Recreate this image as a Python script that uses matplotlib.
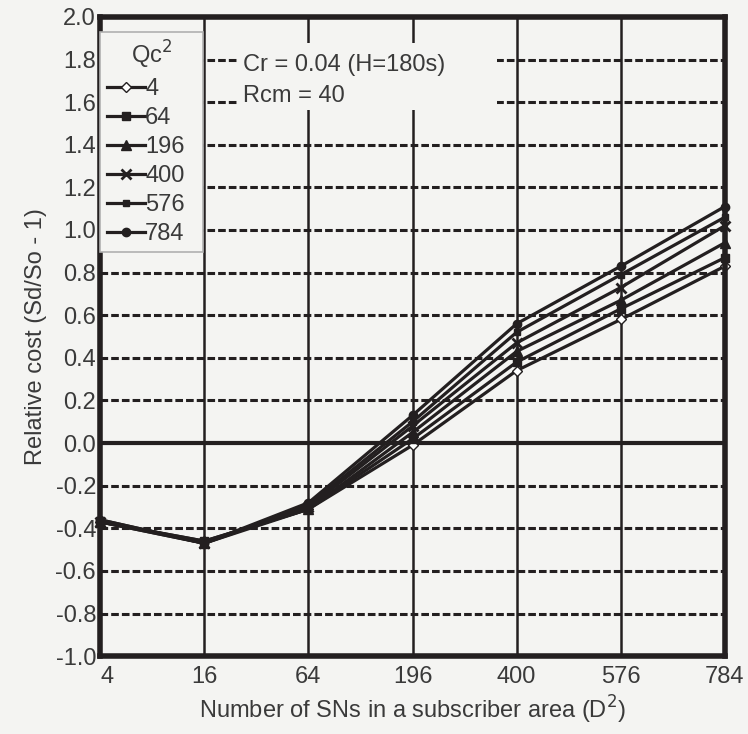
import matplotlib
matplotlib.use("Agg")
import matplotlib.pyplot as plt
from matplotlib.patches import Rectangle

# x categories (evenly spaced on the chart)
d2_labels = ["4", "16", "64", "196", "400", "576", "784"]

# relative cost for each Qc^2
q4 = [-0.37, -0.46, -0.31, -0.01, 0.34, 0.58, 0.83]
q64 = [-0.37, -0.46, -0.31, 0.02, 0.38, 0.63, 0.87]
q196 = [-0.37, -0.47, -0.31, 0.05, 0.43, 0.67, 0.94]
q400 = [-0.37, -0.47, -0.30, 0.08, 0.47, 0.73, 1.02]
q576 = [-0.36, -0.47, -0.29, 0.10, 0.52, 0.79, 1.06]
q784 = [-0.36, -0.47, -0.28, 0.13, 0.56, 0.83, 1.11]

series = [
    ("4", q4, dict(marker="D", markersize=5, markerfacecolor="white")),
    ("64", q64, dict(marker="s", markersize=6)),
    ("196", q196, dict(marker="^", markersize=7)),
    ("400", q400, dict(marker="x", markersize=7, markeredgewidth=2)),
    ("576", q576, dict(marker="s", markersize=5)),
    ("784", q784, dict(marker="o", markersize=6)),
]

bg = "#f4f4f2"
ink = "#231f20"
txt = "#3a3a3a"
fs = 17

plt.rcParams["font.family"] = ["Liberation Sans", "DejaVu Sans"]

fig = plt.figure(figsize=(7.48, 7.34), dpi=100, facecolor=bg)
ax = fig.add_axes([0.134, 0.106, 0.835, 0.871], facecolor=bg)

x = list(range(len(d2_labels)))

# grid
for yv in [-0.8, -0.6, -0.4, -0.2, 0.2, 0.4, 0.6, 0.8, 1.0, 1.2, 1.4, 1.6, 1.8]:
    ax.axhline(yv, color=ink, lw=2.2, ls=(0, (2.5, 1)), zorder=1)
ax.axhline(0.0, color=ink, lw=3, zorder=1)
for xv in x[1:-1]:
    ax.axvline(xv, color=ink, lw=1.8, zorder=1)

# plain box behind the annotation
ax.add_patch(Rectangle((0.221, 0.854), 0.414, 0.105, transform=ax.transAxes,
                       facecolor=bg, edgecolor="none", zorder=2))
ax.text(0.228, 0.925, "Cr = 0.04 (H=180s)", transform=ax.transAxes,
        fontsize=fs, color=txt, va="center", zorder=3)
ax.text(0.228, 0.876, "Rcm = 40", transform=ax.transAxes,
        fontsize=fs, color=txt, va="center", zorder=3)

for name, vals, style in series:
    ax.plot(x, vals, color=ink, lw=2.3, label=name, zorder=4,
            markeredgecolor=ink, clip_on=False, **style)

ax.set_xlim(0, 6)
ax.set_ylim(-1.0, 2.0)
ax.set_xticks(x)
ax.set_xticklabels(d2_labels)
ax.set_yticks([-1.0 + 0.2 * i for i in range(16)])
ax.set_yticklabels([f"{-1.0 + 0.2 * i:.1f}" for i in range(16)])
ax.tick_params(axis="y", direction="in", length=5, width=2, color=ink,
               labelsize=fs, labelcolor=txt, pad=3)
ax.tick_params(axis="x", length=0, labelsize=fs, labelcolor=txt, pad=7)
for lab in ax.get_xticklabels()[:1]:
    lab.set_horizontalalignment("left")

for sp in ax.spines.values():
    sp.set_linewidth(4)
    sp.set_color(ink)
    sp.set_zorder(5)

ax.set_xlabel("Number of SNs in a subscriber area (D$^2$)", fontsize=fs,
              color=txt, labelpad=4)
ax.set_ylabel("Relative cost (Sd/So - 1)", fontsize=fs, color=txt,
              labelpad=6)

leg = ax.legend(title="Qc$^2$", loc="upper left",
                bbox_to_anchor=(0.0, 0.628, 0.165, 0.349), mode="expand",
                borderaxespad=0, fontsize=fs, title_fontsize=fs,
                handlelength=1.6, handletextpad=0.0, labelspacing=0.3,
                frameon=True, fancybox=False, borderpad=0.3)
leg.get_frame().set_facecolor(bg)
leg.get_frame().set_edgecolor("#b0b0b0")
leg.get_frame().set_linewidth(1.2)
leg.get_frame().set_alpha(1)
leg.set_zorder(6)
for t in leg.get_texts():
    t.set_color(txt)
leg.get_title().set_color(txt)

fig.savefig("out.png", dpi=100, facecolor=bg)
